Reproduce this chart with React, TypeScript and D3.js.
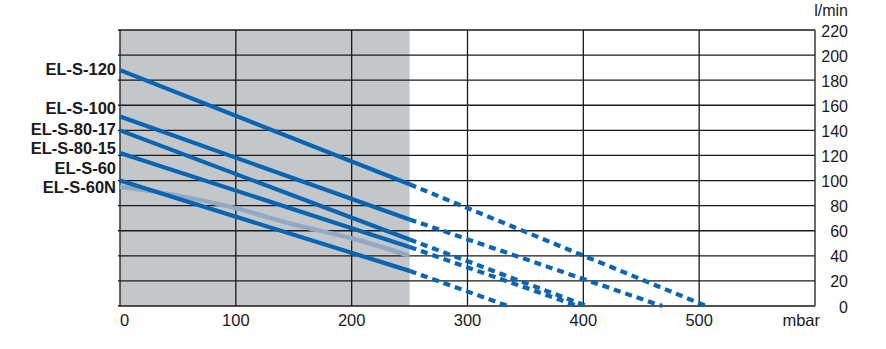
import React, { useEffect, useRef } from 'react';
import * as d3 from 'd3';

// pump models, top to bottom
const models = ['EL-S-120', 'EL-S-100', 'EL-S-80-17', 'EL-S-80-15', 'EL-S-60', 'EL-S-60N'];

// flow (l/min) at 0 mbar and at 250 mbar, then pressure where the flow reaches 0
const flowAt0 = [188, 151, 140, 122, 100, 95];
const flowAt250 = [97, 69, 53, 47, 28, 39];
const zeroFlowPressure = [506, 468, 403, 395, 335, null];

const nPressure = [0, 50, 100, 150, 200, 250];
const nFlow = [95, 88, 78, 65, 54, 40];

// where the model names sit on the flow scale
const labelFlow = [189, 158, 141, 125.5, 110, 95];

const xTicks = [0, 100, 200, 300, 400, 500];
const yTicks = [0, 20, 40, 60, 80, 100, 120, 140, 160, 180, 200, 220];

const BLUE = '#0865b3';
const GREY_LINE = '#92a9c3';

const App: React.FC = () => {
  const svgRef = useRef<SVGSVGElement>(null);

  useEffect(() => {
    const svg = d3.select(svgRef.current);
    svg.selectAll('*').remove();

    const x = d3.scaleLinear().domain([0, 600]).range([120, 815]);
    const y = d3.scaleLinear().domain([0, 220]).range([306, 30]);
    const font = "'Liberation Sans', Arial, sans-serif";

    // shaded range 0..250 mbar
    svg.append('rect')
      .attr('x', x(0)).attr('y', y(220))
      .attr('width', x(250) - x(0)).attr('height', y(0) - y(220))
      .attr('fill', '#c4c7ca');

    // grid
    const grid = svg.append('g').attr('stroke', '#1a1a1a').attr('stroke-width', 1.3);
    yTicks.forEach(v => {
      grid.append('line').attr('x1', x(0) - 2).attr('x2', x(600))
        .attr('y1', y(v)).attr('y2', y(v));
    });
    [...xTicks, 600].forEach(v => {
      grid.append('line').attr('x1', x(v)).attr('x2', x(v))
        .attr('y1', y(0)).attr('y2', y(220));
    });

    const line = d3.line<[number, number]>().x(d => x(d[0])).y(d => y(d[1]));

    // EL-S-60N light curve
    svg.append('path')
      .datum(nPressure.map((p, i) => [p, nFlow[i]] as [number, number]))
      .attr('d', d3.line<[number, number]>().x(d => x(d[0])).y(d => y(d[1])).curve(d3.curveMonotoneX))
      .attr('fill', 'none').attr('stroke', GREY_LINE).attr('stroke-width', 4.5);

    // blue models
    models.forEach((m, i) => {
      const zp = zeroFlowPressure[i];
      if (zp === null) return;
      svg.append('path')
        .datum([[0, flowAt0[i]], [250, flowAt250[i]]] as [number, number][])
        .attr('d', line)
        .attr('fill', 'none').attr('stroke', BLUE).attr('stroke-width', 4.2);
      svg.append('path')
        .datum([[250, flowAt250[i]], [zp, 0]] as [number, number][])
        .attr('d', line)
        .attr('fill', 'none').attr('stroke', BLUE).attr('stroke-width', 4.2)
        .attr('stroke-dasharray', '7,5');
    });

    // model names
    models.forEach((m, i) => {
      svg.append('text')
        .attr('x', 116).attr('y', y(labelFlow[i]))
        .attr('dy', '0.36em')
        .attr('text-anchor', 'end')
        .attr('font-family', font).attr('font-weight', 'bold')
        .attr('font-size', 16.5).attr('fill', '#1a1a1a')
        .text(m);
    });

    // right axis labels
    yTicks.forEach(v => {
      svg.append('text')
        .attr('x', 848).attr('y', y(v) + 6.5)
        .attr('text-anchor', 'end')
        .attr('font-family', font).attr('font-size', 16).attr('fill', '#1a1a1a')
        .text(v);
    });
    svg.append('text')
      .attr('x', 848).attr('y', 16)
      .attr('text-anchor', 'end')
      .attr('font-family', font).attr('font-size', 16).attr('fill', '#1a1a1a')
      .text('l/min');

    // bottom labels
    xTicks.forEach(v => {
      svg.append('text')
        .attr('x', x(v)).attr('y', 326)
        .attr('text-anchor', v === 0 ? 'start' : 'middle')
        .attr('font-family', font).attr('font-size', 16.5).attr('fill', '#1a1a1a')
        .text(v);
    });
    svg.append('text')
      .attr('x', 820).attr('y', 326)
      .attr('text-anchor', 'end')
      .attr('font-family', font).attr('font-size', 16.5).attr('fill', '#1a1a1a')
      .text('mbar');
  }, []);

  return (
    <svg ref={svgRef} width={886} height={349}
      style={{ position: 'absolute', left: 0, top: 0, background: '#fff' }} />
  );
};

export default App;
